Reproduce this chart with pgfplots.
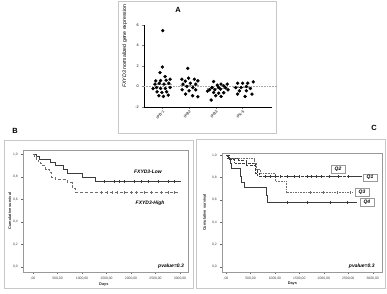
\documentclass[border=0pt]{standalone}
\usepackage{pgfplots}
\pgfplotsset{compat=1.18}
\usepackage{fontspec}
\setmainfont{Liberation Sans}
\definecolor{framegray}{RGB}{200,200,200}
\definecolor{curvedark}{RGB}{60,60,60}
\definecolor{curvegray}{RGB}{110,110,110}

% expression values per group: x = group position (with spread), y = value
\pgfplotstableread{
x y
1.00 5.45
0.99 1.90
0.90 1.35
1.09 0.97
0.74 0.55
0.92 0.58
1.13 0.61
1.28 0.71
0.71 0.23
0.87 0.32
1.05 0.23
1.23 0.32
0.77 -0.10
0.92 -0.19
1.10 -0.19
1.28 -0.10
0.79 -0.52
0.97 -0.58
1.15 -0.52
0.86 -0.90
1.03 -0.97
1.21 -0.84
0.64 -0.20
}\ipbone
\pgfplotstableread{
x y
1.94 1.77
1.72 0.71
1.97 0.81
2.19 0.71
1.85 0.52
2.32 0.55
1.76 0.23
2.04 0.32
2.24 0.23
1.91 0.00
2.13 -0.10
1.73 -0.32
1.99 -0.42
2.24 -0.32
1.86 -0.74
2.12 -0.90
2.32 -1.00
}\ipbtwo
\pgfplotstableread{
x y
2.91 0.48
3.19 0.23
3.42 0.23
3.05 0.13
3.29 0.06
2.85 -0.10
3.10 -0.10
3.36 -0.13
2.76 -0.32
2.96 -0.32
3.17 -0.26
3.45 -0.32
2.91 -0.58
3.10 -0.65
3.29 -0.61
2.99 -0.90
3.19 -0.97
2.82 -1.32
2.68 -0.45
}\ipbthree
\pgfplotstableread{
x y
3.81 0.32
4.00 0.32
4.19 0.32
4.40 0.45
3.74 -0.10
3.94 -0.10
4.14 0.00
4.29 -0.19
3.88 -0.42
4.14 -0.42
3.81 -0.74
4.09 -0.97
4.35 -0.74
}\ipbfour

\pgfplotsset{
  kmaxis/.style={
    scale only axis, anchor=south west,
    ymin=-0.045, ymax=1.04,
    ytick={0,0.2,0.4,0.6,0.8,1.0},
    yticklabels={{0,0},{0,2},{0,4},{0,6},{0,8},{1,0}},
    xtick={0,500,1000,1500,2000,2500,3000},
    xticklabels={{,00},{500,00},{1000,00},{1500,00},{2000,00},{2500,00},{3000,00}},
    tick label style={font=\fontsize{3.4}{3.8}\selectfont, text=black!75},
    axis line style={black!40, line width=0.5bp},
    tick style={black!60, line width=0.4bp},
    tick align=outside, major tick length=1.6bp,
    xtick pos=bottom, ytick pos=left,
    xlabel={Days}, ylabel={Cumulative survival},
    label style={font=\bfseries\fontsize{3.9}{4.3}\selectfont, text=black!85},
    xlabel style={at={(axis description cs:0.49,-0.1)}, anchor=center},
    clip=false,
  },
  censor/.style={only marks, mark=|, mark size=1.4bp, mark options={line width=0.35bp}},
}
\tikzset{
  ann/.style={font=\bfseries\itshape\fontsize{5}{6}\selectfont},
  qbox/.style={ann, draw=black!40, fill=white, line width=0.4bp, inner sep=1.6bp, minimum width=14bp},
}

\begin{document}
\begin{tikzpicture}[x=1bp,y=1bp]
\path (0,0) rectangle (387,294);
% panel frames
\draw[framegray, line width=0.7bp] (118,161) rectangle (276,293);
\draw[framegray, line width=0.7bp] (4,6) rectangle (193,154);
\draw[framegray, line width=0.7bp] (196,6) rectangle (385,155);
\node[font=\bfseries\fontsize{7.5}{8}\selectfont] at (178,284) {A};
\node[font=\bfseries\fontsize{7.5}{8}\selectfont] at (15,163) {B};
\node[font=\bfseries\fontsize{7.5}{8}\selectfont] at (374,166) {C};

% ---- A: expression by group ----
\begin{axis}[
  at={(144bp,187bp)}, anchor=south west, scale only axis,
  width=128bp, height=82bp,
  xmin=0.3, xmax=5.1, ymin=-2, ymax=6,
  axis x line*=bottom, axis y line*=left,
  axis line style={-, line width=0.6bp},
  xtick={1,2,3,4}, xticklabels={IPB-1,IPB2,IPB3,IP4-5},
  ytick={-2,0,2,4,6},
  /pgf/number format/assume math mode=true,
  tick label style={font=\fontsize{3.8}{4.2}\selectfont},
  xticklabel style={rotate=45, anchor=north east, inner sep=1bp},
  tick align=outside, major tick length=1.8bp,
  tick style={line width=0.5bp},
  ylabel={\textit{FXYD3} normalized gene expression},
  ylabel style={font=\fontsize{5.2}{5.6}\selectfont, at={(axis description cs:-0.15,0.74)}, anchor=center},
  clip=false,
]
\addplot[gray!70, densely dotted, line width=0.6bp] coordinates {(0.3,0) (5.3,0)};
\addplot[gray!80, line width=0.8bp] coordinates {(0.65,0.22) (1.35,0.22)};
\addplot[gray!80, line width=0.8bp] coordinates {(1.65,0.12) (2.35,0.12)};
\addplot[gray!80, line width=0.8bp] coordinates {(2.65,-0.2) (3.35,-0.2)};
\addplot[gray!80, line width=0.8bp] coordinates {(3.65,-0.1) (4.35,-0.1)};
\addplot[only marks, mark=*, mark size=1.5bp, black] table {\ipbone};
\addplot[only marks, mark=*, mark size=1.5bp, black] table {\ipbtwo};
\addplot[only marks, mark=*, mark size=1.5bp, black] table {\ipbthree};
\addplot[only marks, mark=*, mark size=1.5bp, black] table {\ipbfour};
\end{axis}

% ---- B: survival by FXYD3 level ----
\begin{axis}[kmaxis,
  at={(23bp,22bp)}, width=165bp, height=122bp,
  xmin=-204, xmax=3163,
  ylabel style={at={(axis description cs:-0.08,0.5)}, anchor=center},
]
\addplot[const plot, curvedark, line width=0.8bp] coordinates {
  (0,1.0) (68,0.98) (137,0.955) (356,0.93) (459,0.90) (630,0.87)
  (699,0.835) (1007,0.80) (1281,0.76) (3020,0.76)};
\addplot[const plot, curvegray, densely dashed, line width=0.7bp] coordinates {
  (0,1.0) (20,0.98) (60,0.96) (100,0.94) (150,0.92) (200,0.90) (260,0.87)
  (330,0.84) (380,0.80) (450,0.78) (700,0.75) (800,0.70) (870,0.665) (2990,0.665)};
\addplot[censor, curvedark] coordinates {
  (1450,0.76) (1658,0.76) (1760,0.76) (1863,0.76) (2068,0.76) (2205,0.76)
  (2342,0.76) (2548,0.76) (2753,0.76) (2890,0.76)};
\addplot[censor, curvegray] coordinates {
  (1384,0.665) (1521,0.665) (1623,0.665) (1726,0.665) (1863,0.665) (2000,0.665)
  (2103,0.665) (2274,0.665) (2411,0.665) (2616,0.665) (2753,0.665) (2890,0.665)};
\node[ann] at (axis cs:2347,0.85) {FXYD3-Low};
\node[ann] at (axis cs:2390,0.57) {FXYD3-High};
\node[ann, anchor=east] at (axis cs:3150,0.01) {pvalue=0.3};
\end{axis}

% ---- C: survival by quartile ----
\begin{axis}[kmaxis,
  at={(222bp,22bp)}, width=160bp, height=119bp,
  xmin=-82, xmax=3190, ymax=1.02,
  ylabel style={at={(axis description cs:-0.11,0.5)}, anchor=center},
  xlabel style={at={(axis description cs:0.44,-0.1)}},
]
% Q1
\addplot[const plot, curvedark, dash pattern=on 3bp off 1.2bp, line width=0.7bp] coordinates {
  (0,1.0) (20,0.97) (250,0.95) (420,0.91) (600,0.84) (680,0.81) (2780,0.81)};
% Q2
\addplot[const plot, curvedark, dash pattern=on 2bp off 0.8bp on 0.6bp off 0.8bp, line width=0.7bp] coordinates {
  (0,1.0) (60,0.96) (180,0.93) (600,0.87) (650,0.815) (2780,0.815)};
% Q3
\addplot[const plot, curvegray, dash pattern=on 1.6bp off 1bp, line width=0.8bp] coordinates {
  (0,1.0) (40,0.97) (590,0.93) (630,0.87) (700,0.84) (1000,0.77) (1230,0.665) (2600,0.665)};
% Q4
\addplot[const plot, curvedark, line width=0.8bp] coordinates {
  (0,1.0) (48,0.97) (95,0.93) (116,0.88) (286,0.81) (320,0.76) (368,0.71)
  (818,0.64) (846,0.576) (2674,0.576)};
\addplot[censor, curvedark] coordinates {
  (800,0.81) (900,0.81) (1000,0.81) (1100,0.81) (1250,0.81) (1400,0.81) (1500,0.81)
  (1650,0.81) (1750,0.81) (1850,0.81) (1950,0.81) (2100,0.81) (2300,0.81) (2500,0.81)};
\addplot[censor, curvegray] coordinates {
  (1719,0.665) (1992,0.665) (2265,0.665) (2537,0.665)};
\addplot[censor, curvedark] coordinates {
  (1241,0.576) (1651,0.576) (2128,0.576) (2469,0.576)};
\node[qbox] at (axis cs:2290,0.875) {Q2};
\node[qbox] at (axis cs:2945,0.80) {Q1};
\node[qbox] at (axis cs:2780,0.67) {Q3};
\node[qbox] at (axis cs:2880,0.58) {Q4};
\node[ann, anchor=east] at (axis cs:3110,0.01) {pvalue=0.3};
\end{axis}
\end{tikzpicture}
\end{document}
